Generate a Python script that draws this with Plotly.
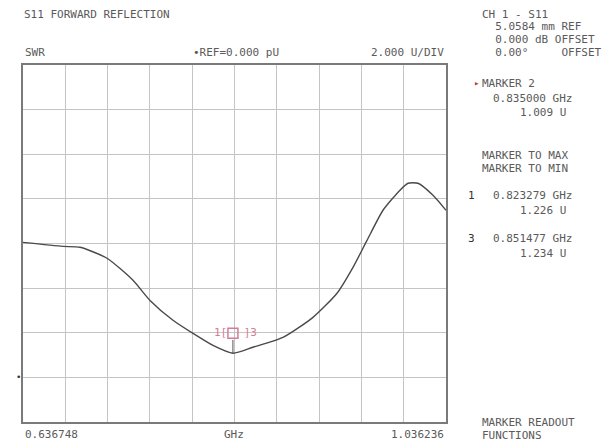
import plotly.graph_objects as go

# trace (GHz, SWR units)
freq_ghz = [0.63675, 0.67453, 0.69058, 0.71608, 0.74064, 0.75669, 0.77841, 0.79730,
            0.81619, 0.83508, 0.85397, 0.88230, 0.91063, 0.93330, 0.94841, 0.96163,
            0.97674, 0.99280, 1.00035, 1.00980, 1.02396, 1.03624]
swr = [6.05, 5.87, 5.83, 5.34, 4.35, 3.45, 2.56, 1.97,
       1.43, 1.08, 1.35, 1.79, 2.69, 3.77, 4.93, 6.14,
       7.49, 8.39, 8.70, 8.70, 8.16, 7.49]

start_ghz = 0.636748
stop_ghz = 1.036236
ref_value = 0.0
units_per_div = 2.0

marker_names = ["1", "2", "3"]
marker_freqs = [0.823279, 0.835000, 0.851477]

header_left = "S11 FORWARD REFLECTION"
ch_lines = ["CH 1 - S11", "  5.0584 mm REF", "  0.000 dB OFFSET", "  0.00°     OFFSET"]

W, H = 606, 443
L, R, T, B = 23, 446, 65, 422
FONT = "DejaVu Sans Mono"
TXT = "#5a5a5a"
PINK = "#d27f95"


def px(x):
    return (x - L) / (R - L)


def py(y):
    return (B - y) / (B - T)


fig = go.Figure()
fig.add_trace(go.Scatter(x=freq_ghz, y=swr, mode="lines",
                         line=dict(color="#4a4a4a", width=1.4, shape="spline", smoothing=0.6),
                         hoverinfo="skip", showlegend=False))

# marker 2 box + stem down to the trace, markers 1 and 3 as numbers
box_y = min(swr) + 0.9
fig.add_trace(go.Scatter(x=[marker_freqs[1], marker_freqs[1]], y=[box_y - 0.3, min(swr)],
                         mode="lines", line=dict(color="#555", width=1),
                         hoverinfo="skip", showlegend=False))
fig.add_trace(go.Scatter(x=[marker_freqs[1]], y=[box_y], mode="markers",
                         marker=dict(symbol="square-open", size=10, color=PINK,
                                     line=dict(width=1.5, color=PINK)),
                         hoverinfo="skip", showlegend=False))
fig.add_trace(go.Scatter(x=[marker_freqs[0], marker_freqs[2]], y=[box_y, box_y],
                         mode="text", text=[marker_names[0] + "[", "]" + marker_names[2]],
                         textfont=dict(family=FONT, size=11, color=PINK),
                         hoverinfo="skip", showlegend=False))

fig.update_xaxes(range=[start_ghz, stop_ghz], tick0=start_ghz, dtick=(stop_ghz - start_ghz) / 10,
                 showticklabels=False, showgrid=True, gridcolor="#c4c4c4", gridwidth=1,
                 zeroline=False, showline=True, mirror=True, linecolor="#7a7a7a", linewidth=2,
                 ticks="")
fig.update_yaxes(range=[ref_value - units_per_div, ref_value + 7 * units_per_div],
                 tick0=ref_value, dtick=units_per_div,
                 showticklabels=False, showgrid=True, gridcolor="#c4c4c4", gridwidth=1,
                 zeroline=False, showline=True, mirror=True, linecolor="#7a7a7a", linewidth=2,
                 ticks="")

ann = []


def text(x, y, s, anchor="left", color=TXT, size=11):
    ann.append(dict(xref="paper", yref="paper", x=px(x), y=py(y), text=s, showarrow=False,
                    xanchor=anchor, yanchor="middle",
                    font=dict(family=FONT, size=size, color=color)))


text(22, 14, header_left)
text(L, 53, "SWR")
text(236, 53, "•REF=%.3f pU" % ref_value, anchor="center")
text(R, 53, "%.3f U/DIV" % units_per_div, anchor="right")
for i, s in enumerate(ch_lines):
    text(480, 14 + i * 12.7, s.replace(" ", "&nbsp;"))

text(472, 83, "▸", color="#c0392b", size=9)
text(480, 83, "MARKER " + marker_names[1])
text(574, 98, "%.6f GHz" % marker_freqs[1], anchor="right")
text(568, 112, "%.3f U" % 1.009, anchor="right")
text(480, 155, "MARKER TO MAX")
text(480, 168, "MARKER TO MIN")
text(466, 195, marker_names[0], color="#333")
text(574, 195, "%.6f GHz" % marker_freqs[0], anchor="right")
text(568, 210, "%.3f U" % 1.226, anchor="right")
text(466, 238, marker_names[2], color="#333")
text(574, 238, "%.6f GHz" % marker_freqs[2], anchor="right")
text(568, 253, "%.3f U" % 1.234, anchor="right")
text(480, 422, "MARKER READOUT")
text(480, 435, "FUNCTIONS")

text(L, 434, "%.6f" % start_ghz)
text(234, 434, "GHz", anchor="center")
text(R, 434, "%.6f" % stop_ghz, anchor="right")
text(18, 377, "•", color="#333", anchor="center", size=9)

fig.update_layout(width=W, height=H, margin=dict(l=L, r=W - R, t=T, b=H - B),
                  paper_bgcolor="white", plot_bgcolor="white", annotations=ann,
                  showlegend=False)

# page has a default 8px body margin; drop it so the figure sits at the corner
fig.write_html("out.html", config={"displayModeBar": False},
               post_script="document.body.style.margin='0';document.body.style.overflow='hidden';")
